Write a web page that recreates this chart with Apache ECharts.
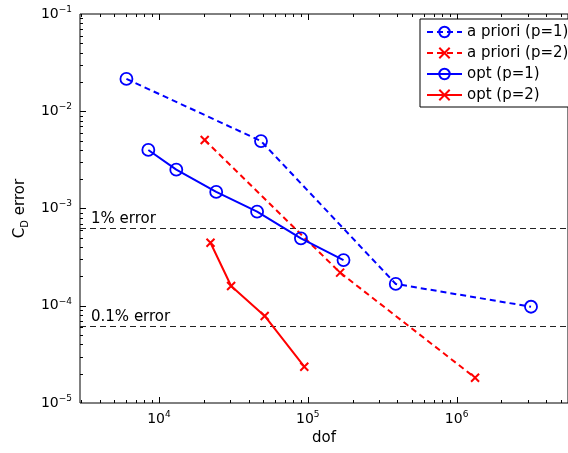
<!DOCTYPE html>
<html><head><meta charset="utf-8">
<script src="https://cdn.jsdelivr.net/npm/echarts@6/dist/echarts.min.js"></script>
<style>html,body{margin:0;padding:0;background:#fff}#c{width:568px;height:453px}</style>
</head><body><div id="c"></div>
<script>
const seriesNames = ['a priori (p=1)', 'a priori (p=2)', 'opt (p=1)', 'opt (p=2)'];
const aprioriP1Dof = [6050, 48500, 390000, 3160000];
const aprioriP1Err = [0.0215, 0.00494, 1.675e-4, 9.77e-5];
const aprioriP2Dof = [20300, 165000, 1330000];
const aprioriP2Err = [0.00506, 2.19e-4, 1.82e-5];
const optP1Dof = [8490, 13080, 24260, 45660, 89950, 173800];
const optP1Err = [0.0040, 0.00251, 0.00148, 9.27e-4, 4.93e-4, 2.95e-4];
const optP2Dof = [22210, 30550, 51340, 94740];
const optP2Err = [4.45e-4, 1.596e-4, 7.85e-5, 2.36e-5];
const refLineValues = [6.25e-4, 6.25e-5];
const refLineLabels = ['1% error', '0.1% error'];
const xMin = 2950, xMax = 5.6e6, yMin = 1e-5, yMax = 1e-1;
const xName = 'dof';

const FONT = '"DejaVu Sans", Verdana, sans-serif';
const BLUE = '#0000ff', RED = '#ff0000';
const CROSS = 'path://M0,0L10,10M10,0L0,10';

function zip(a, b) { return a.map((v, i) => [v, b[i]]); }

// axis tick positions (decorations): powers of ten and their 2..9 multiples
const xTicks = [], yTicks = [];
for (let k = Math.floor(Math.log10(xMin)); k <= Math.ceil(Math.log10(xMax)); k++) {
  for (let m = 1; m <= 9; m++) {
    const v = m * Math.pow(10, k);
    if (v > xMin && v < xMax) xTicks.push([v, yMin, m === 1 ? 1 : 0]);
  }
}
for (let k = Math.floor(Math.log10(yMin)); k <= Math.ceil(Math.log10(yMax)); k++) {
  for (let m = 1; m <= 9; m++) {
    const v = m * Math.pow(10, k);
    if (v > yMin * 1.0001 && v < yMax * 0.9999) yTicks.push([xMin, v, m === 1 ? 1 : 0]);
  }
}

function powLabel(v) {
  const l = Math.log10(v), e = Math.round(l);
  if (Math.abs(l - e) > 1e-6) return '';
  return '{b|10}{s|' + String(e).replace('-', '\u2212') + '}';
}
const labelRich = {
  b: { fontSize: 14, fontFamily: FONT, color: '#000', lineHeight: 18 },
  s: { fontSize: 9, fontFamily: FONT, color: '#000', lineHeight: 11, verticalAlign: 'top' }
};

const chart = echarts.init(document.getElementById('c'), null, { renderer: 'canvas' });

function lineSeries(name, data, color, dashed, marker) {
  const isCircle = marker === 'o';
  return {
    name, type: 'line', data,
    symbol: isCircle ? 'circle' : CROSS,
    symbolSize: isCircle ? 12 : 8,
    showSymbol: true,
    lineStyle: { color, width: 2, type: dashed ? [6, 4] : 'solid' },
    itemStyle: { color: 'rgba(0,0,0,0)', borderColor: color, borderWidth: isCircle ? 1.8 : 2 },
    emphasis: { disabled: true },
    animation: false, z: 3
  };
}

const series = [
  lineSeries(seriesNames[0], zip(aprioriP1Dof, aprioriP1Err), BLUE, true, 'o'),
  lineSeries(seriesNames[1], zip(aprioriP2Dof, aprioriP2Err), RED, true, 'x'),
  lineSeries(seriesNames[2], zip(optP1Dof, optP1Err), BLUE, false, 'o'),
  lineSeries(seriesNames[3], zip(optP2Dof, optP2Err), RED, false, 'x')
];

// reference threshold lines, positioned through the y scale
series.push({
  type: 'custom', name: 'refLines', silent: true, z: 2, clip: false,
  data: refLineValues.map((v, i) => [xMin, v, i]), encode: { x: 0, y: 1 },
  renderItem: function (params, api) {
    const cs = params.coordSys;
    const p = api.coord([api.value(0), api.value(1)]);
    const y = Math.round(p[1]) + 0.5;
    return { type: 'group', children: [
      { type: 'line', shape: { x1: cs.x, y1: y, x2: cs.x + cs.width, y2: y },
        style: { stroke: '#222', lineWidth: 1, lineDash: [6, 4] } },
      { type: 'text', style: { text: refLineLabels[api.value(2)], x: cs.x + 11, y: y - 2,
        fill: '#000', fontSize: 15, fontFamily: FONT, verticalAlign: 'bottom', align: 'left' } }
    ] };
  }
});

series.push({
  type: 'custom', name: 'xticks', data: xTicks, encode: { x: 0, y: 1 }, silent: true, z: 5, clip: false,
  renderItem: function (params, api) {
    const cs = params.coordSys;
    const p = api.coord([api.value(0), api.value(1)]);
    const L = api.value(2) ? 6 : 3;
    const x = Math.round(p[0]) + 0.5;
    const st = { stroke: '#000', lineWidth: 1 };
    return { type: 'group', children: [
      { type: 'line', shape: { x1: x, y1: cs.y + cs.height, x2: x, y2: cs.y + cs.height - L }, style: st },
      { type: 'line', shape: { x1: x, y1: cs.y, x2: x, y2: cs.y + L }, style: st }
    ] };
  }
});
series.push({
  type: 'custom', name: 'yticks', data: yTicks, encode: { x: 0, y: 1 }, silent: true, z: 5, clip: false,
  renderItem: function (params, api) {
    const cs = params.coordSys;
    const p = api.coord([api.value(0), api.value(1)]);
    const L = api.value(2) ? 6 : 3;
    const y = Math.round(p[1]) + 0.5;
    return { type: 'line', shape: { x1: cs.x, y1: y, x2: cs.x + L, y2: y }, style: { stroke: '#000', lineWidth: 1 } };
  }
});

chart.setOption({
  animation: false,
  backgroundColor: '#fff',
  grid: { left: 80, top: 14, right: -1, bottom: 50, show: true, borderColor: '#000', borderWidth: 1, backgroundColor: 'transparent', containLabel: false },
  xAxis: {
    type: 'log', logBase: 10, min: xMin, max: xMax,
    name: xName, nameLocation: 'middle', nameGap: 24,
    nameTextStyle: { fontSize: 15, fontFamily: FONT, color: '#000' },
    axisLine: { show: false }, axisTick: { show: false }, splitLine: { show: false },
    axisLabel: { formatter: powLabel, rich: labelRich, margin: 7, showMinLabel: false, showMaxLabel: false, hideOverlap: false }
  },
  yAxis: {
    type: 'log', logBase: 10, min: yMin, max: yMax,
    name: '{a|C}{d|D}{a| error}', nameLocation: 'middle', nameGap: 36,
    nameTextStyle: { fontSize: 15, fontFamily: FONT, color: '#000',
      rich: {
        a: { fontSize: 15, fontFamily: FONT, color: '#000', lineHeight: 20 },
        d: { fontSize: 10, fontFamily: FONT, color: '#000', lineHeight: 10, verticalAlign: 'bottom' }
      } },
    axisLine: { show: false }, axisTick: { show: false }, splitLine: { show: false },
    axisLabel: { formatter: powLabel, rich: labelRich, margin: 8, hideOverlap: false }
  },
  legend: {
    data: seriesNames,
    left: 420, top: 19, z: 10,
    orient: 'vertical', align: 'left',
    itemWidth: 35, itemHeight: 13, itemGap: 5,
    padding: [5, 6, 4, 6],
    borderColor: '#000', borderWidth: 1, backgroundColor: '#fff',
    textStyle: { fontSize: 15, fontFamily: FONT, color: '#000', lineHeight: 16 },
    selectedMode: false
  },
  series
});
</script>
</body></html>
